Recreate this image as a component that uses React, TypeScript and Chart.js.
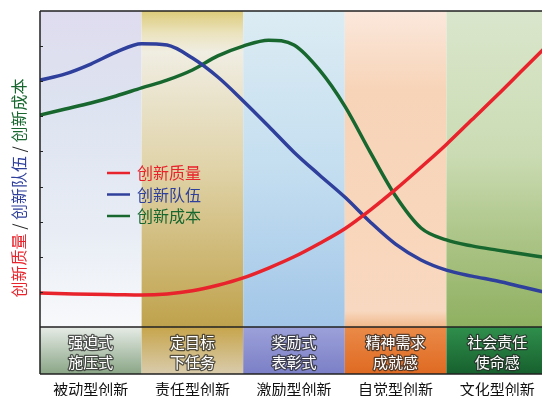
import React, { useEffect, useRef } from "react";
import { Chart, registerables } from "chart.js";

Chart.register(...registerables);

// ---- data ----
const stages = ["被动型创新", "责任型创新", "激励型创新", "自觉型创新", "文化型创新"];
const modesLine1 = ["强迫式", "定目标", "奖励式", "精神需求", "社会责任"];
const modesLine2 = ["施压式", "下任务", "表彰式", "成就感", "使命感"];
const seriesNames = ["创新质量", "创新队伍", "创新成本"];
const xPositions = [0, 0.25, 0.5, 0.75, 1, 1.25, 1.5, 1.75, 2, 2.25, 2.5, 2.75, 3, 3.25, 3.5, 3.75, 4, 4.25, 4.5, 4.75, 5];
const quality = [0.97, 0.95, 0.93, 0.92, 0.91, 0.94, 1.03, 1.19, 1.4, 1.68, 2.0, 2.38, 2.8, 3.33, 3.92, 4.55, 5.2, 5.9, 6.6, 7.32, 8.04];
const team = [7.03, 7.21, 7.49, 7.83, 8.07, 8.03, 7.66, 7.12, 6.44, 5.72, 4.98, 4.33, 3.7, 2.99, 2.36, 1.91, 1.62, 1.45, 1.31, 1.14, 0.97];
const cost = [6.04, 6.21, 6.38, 6.58, 6.81, 7.03, 7.32, 7.72, 8.0, 8.17, 8.03, 7.32, 6.29, 4.98, 3.73, 2.82, 2.48, 2.31, 2.19, 2.08, 1.97];
const yTicks = [1, 2, 3, 4, 5, 6, 7, 8];

// ---- styles ----
const COLORS = ["#e8232b", "#2f3f9c", "#17672f"];
const FONT = "'Noto Sans CJK SC', 'Noto Sans', sans-serif";
const BAND_STOPS: [number, string][][] = [
  [[0, "#dfdcef"], [0.3, "#dde3f0"], [0.7, "#e8edf5"], [1, "#f8f9fb"]],
  [[0, "#dccb7a"], [0.07, "#ebe3bd"], [0.13, "#f0ede2"], [0.5, "#e0d3a8"], [1, "#bfa24c"]],
  [[0, "#dcecf3"], [0.5, "#c4def0"], [1, "#a2c6e8"]],
  [[0, "#fbe8dc"], [0.25, "#f7d4b8"], [0.6, "#f8d6bb"], [0.95, "#f8d8c0"], [1, "#f1b88a"]],
  [[0, "#dae6cc"], [0.45, "#cbdcb4"], [0.7, "#aec68a"], [1, "#8fb060"]],
];
const ROW_STOPS: [number, string][][] = [
  [[0, "#e6ece6"], [1, "#8aa586"]],
  [[0, "#c7a54c"], [1, "#d9ccac"]],
  [[0, "#9ca1da"], [1, "#7b7fc6"]],
  [[0, "#ea8a48"], [1, "#df6a22"]],
  [[0, "#2f8f4c"], [1, "#17602e"]],
];
const ROW_H = 47;

const decor = {
  id: "decor",
  beforeDatasetsDraw(chart: any) {
    const { ctx, chartArea, scales } = chart;
    const { top, bottom } = chartArea;
    const x = scales.x;
    ctx.save();
    for (let i = 0; i < stages.length; i++) {
      const x0 = x.getPixelForValue(i);
      const x1 = x.getPixelForValue(i + 1);
      const g = ctx.createLinearGradient(0, top, 0, bottom);
      BAND_STOPS[i].forEach(([o, c]) => g.addColorStop(o, c));
      ctx.fillStyle = g;
      ctx.fillRect(x0, top, x1 - x0, bottom - top);
      const r = ctx.createLinearGradient(0, bottom, 0, bottom + ROW_H);
      ROW_STOPS[i].forEach(([o, c]) => r.addColorStop(o, c));
      ctx.fillStyle = r;
      ctx.fillRect(x0, bottom, x1 - x0, ROW_H);
      const cx = (x0 + x1) / 2;
      ctx.font = `15px ${FONT}`;
      ctx.textAlign = "center";
      ctx.textBaseline = "middle";
      ctx.lineJoin = "round";
      ctx.lineWidth = 2.5;
      ctx.strokeStyle = "rgba(40,40,40,0.75)";
      ctx.fillStyle = "#ffffff";
      [[modesLine1[i], bottom + 15], [modesLine2[i], bottom + 35]].forEach(([t, yy]: any) => {
        ctx.strokeText(t, cx, yy);
        ctx.fillText(t, cx, yy);
      });
    }
    // y-axis title (rotated, multi-colour)
    const segs: [string, string][] = [
      [seriesNames[0], COLORS[0]], [" / ", "#222"], [seriesNames[1], COLORS[1]], [" / ", "#222"], [seriesNames[2], COLORS[2]],
    ];
    ctx.font = `16px ${FONT}`;
    ctx.textAlign = "left";
    ctx.textBaseline = "middle";
    const total = segs.reduce((s, [t]) => s + ctx.measureText(t).width, 0);
    ctx.translate(19, 188);
    ctx.rotate(-Math.PI / 2);
    let pos = -total / 2;
    segs.forEach(([t, c]) => {
      ctx.fillStyle = c;
      ctx.fillText(t, pos, 0);
      pos += ctx.measureText(t).width;
    });
    ctx.restore();
  },
  afterDatasetsDraw(chart: any) {
    const { ctx, chartArea, scales } = chart;
    const { left, top, right, bottom } = chartArea;
    ctx.save();
    ctx.strokeStyle = "#222";
    ctx.lineWidth = 1.5;
    ctx.beginPath();
    ctx.moveTo(left, top);
    ctx.lineTo(right, top);
    ctx.moveTo(left, top);
    ctx.lineTo(left, bottom + ROW_H);
    ctx.moveTo(left, bottom);
    ctx.lineTo(right, bottom);
    ctx.moveTo(left, bottom + ROW_H);
    ctx.lineTo(right, bottom + ROW_H);
    ctx.stroke();
    ctx.lineWidth = 1;
    ctx.beginPath();
    yTicks.forEach((v) => {
      const py = Math.round(scales.y.getPixelForValue(v)) + 0.5;
      ctx.moveTo(left, py);
      ctx.lineTo(left + 3, py);
    });
    ctx.stroke();
    // legend
    ctx.font = `16px ${FONT}`;
    ctx.textAlign = "left";
    ctx.textBaseline = "middle";
    seriesNames.forEach((n, i) => {
      const ly = 173 + i * 21.5;
      ctx.strokeStyle = COLORS[i];
      ctx.lineWidth = 2.5;
      ctx.beginPath();
      ctx.moveTo(107, ly);
      ctx.lineTo(130, ly);
      ctx.stroke();
      ctx.fillStyle = COLORS[i];
      ctx.fillText(n, 137, ly);
    });
    ctx.restore();
  },
};

export default function App() {
  const ref = useRef<HTMLCanvasElement | null>(null);
  useEffect(() => {
    if (!ref.current) return;
    const mk = (vals: number[]) => xPositions.map((xv, i) => ({ x: xv, y: vals[i] }));
    const chart = new Chart(ref.current, {
      type: "line",
      data: {
        datasets: [quality, team, cost].map((vals, i) => ({
          label: seriesNames[i],
          data: mk(vals),
          borderColor: COLORS[i],
          borderWidth: 3.5,
          pointRadius: 0,
          fill: false,
          cubicInterpolationMode: "monotone" as const,
        })),
      },
      options: {
        responsive: false,
        animation: false,
        layout: { padding: { left: 40, top: 11, right: 0, bottom: 2 } },
        plugins: { legend: { display: false }, tooltip: { enabled: false } },
        scales: {
          x: {
            type: "linear",
            min: 0,
            max: 5,
            afterBuildTicks: (s: any) => {
              s.ticks = stages.map((_, i) => ({ value: i + 0.5 }));
            },
            afterFit: (s: any) => {
              s.height = 69;
              s.paddingLeft = 0;
              s.paddingRight = 0;
            },
            ticks: {
              callback: (_v: any, i: number) => stages[i],
              font: { size: 15, family: FONT },
              color: "#111",
              padding: 45,
              maxRotation: 0,
              autoSkip: false,
            },
            grid: { display: false },
            border: { display: false },
          },
          y: { display: false, min: 0, max: 9 },
        },
      },
      plugins: [decor],
    });
    return () => chart.destroy();
  }, []);
  return (
    <div style={{ position: "fixed", left: 0, top: 0, width: 542, height: 398, overflow: "hidden", background: "#fff" }}>
      <canvas ref={ref} width={548} height={398} style={{ display: "block" }} />
    </div>
  );
}
